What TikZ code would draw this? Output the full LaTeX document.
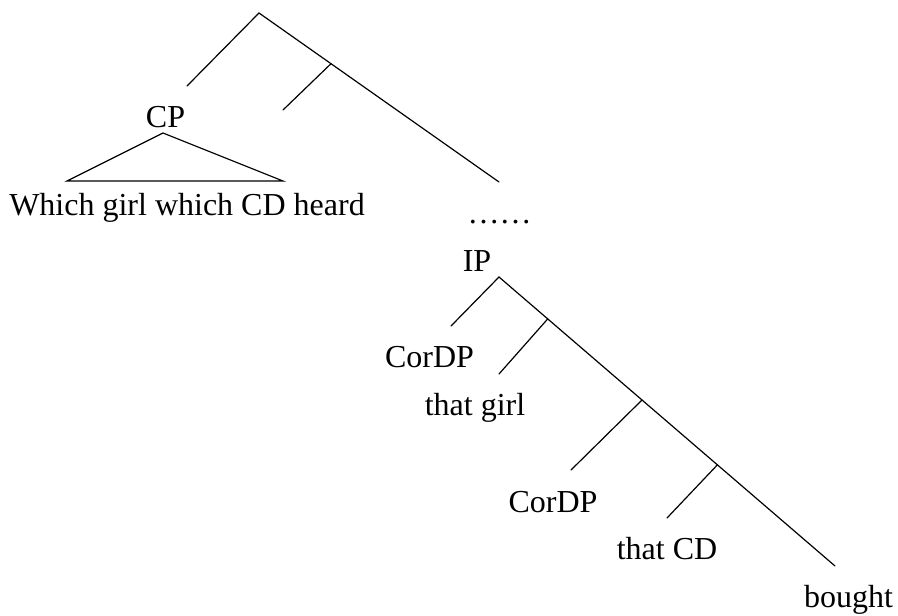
\documentclass[tikz,border=0pt]{standalone}
\usepackage{fontspec}
\setmainfont{Liberation Serif}
\usetikzlibrary{calc}
\begin{document}
\begin{tikzpicture}[x=0.5pt,y=-0.5pt,
  branch/.style={line width=0.6pt, line cap=round},
  lbl/.style={anchor=base, inner sep=0pt, font=\fontsize{16}{19}\selectfont}]
\useasboundingbox (0,0) rectangle (898,615);
% upper tree
\coordinate (top) at (259,13);
\coordinate (topL) at (187,86);
\coordinate (topR) at (499,182);
\coordinate (j1) at ($(top)!0.3!(topR)$);
\coordinate (j1L) at (283,110);
\draw[branch] (topL) -- (top) -- (topR);
\draw[branch] (j1) -- (j1L);
\node[lbl] (cp) at (165.5,127) {CP};
\coordinate (triA) at (163,133);
\coordinate (triL) at (67,181);
\coordinate (triR) at (283,181);
\draw[branch, line join=miter] (triL) -- (triA) -- (triR) -- cycle;
\node[lbl] (which) at (187,215) {Which girl which CD heard};
\node[lbl] (dots) at (499.5,223) {……};
% lower tree
\node[lbl] (ip) at (477,271) {IP};
\coordinate (ipA) at (499,277);
\coordinate (ipL) at (451,326);
\coordinate (ipR) at (835,566);
\draw[branch] (ipL) -- (ipA) -- (ipR);
\coordinate (k1) at ($(ipA)!0.145!(ipR)$);
\coordinate (k1L) at (499,374);
\coordinate (k2) at ($(ipA)!0.4256!(ipR)$);
\coordinate (k2L) at (571,470);
\coordinate (k3) at ($(ipA)!0.65!(ipR)$);
\coordinate (k3L) at (667,518);
\draw[branch] (k1) -- (k1L);
\draw[branch] (k2) -- (k2L);
\draw[branch] (k3) -- (k3L);
\node[lbl] (cordp1) at (429.5,367) {CorDP};
\node[lbl] (thatgirl) at (475,415) {that girl};
\node[lbl] (cordp2) at (553,512) {CorDP};
\node[lbl] (thatcd) at (667,559) {that CD};
\node[lbl] (bought) at (848.5,607) {bought};
\end{tikzpicture}
\end{document}
